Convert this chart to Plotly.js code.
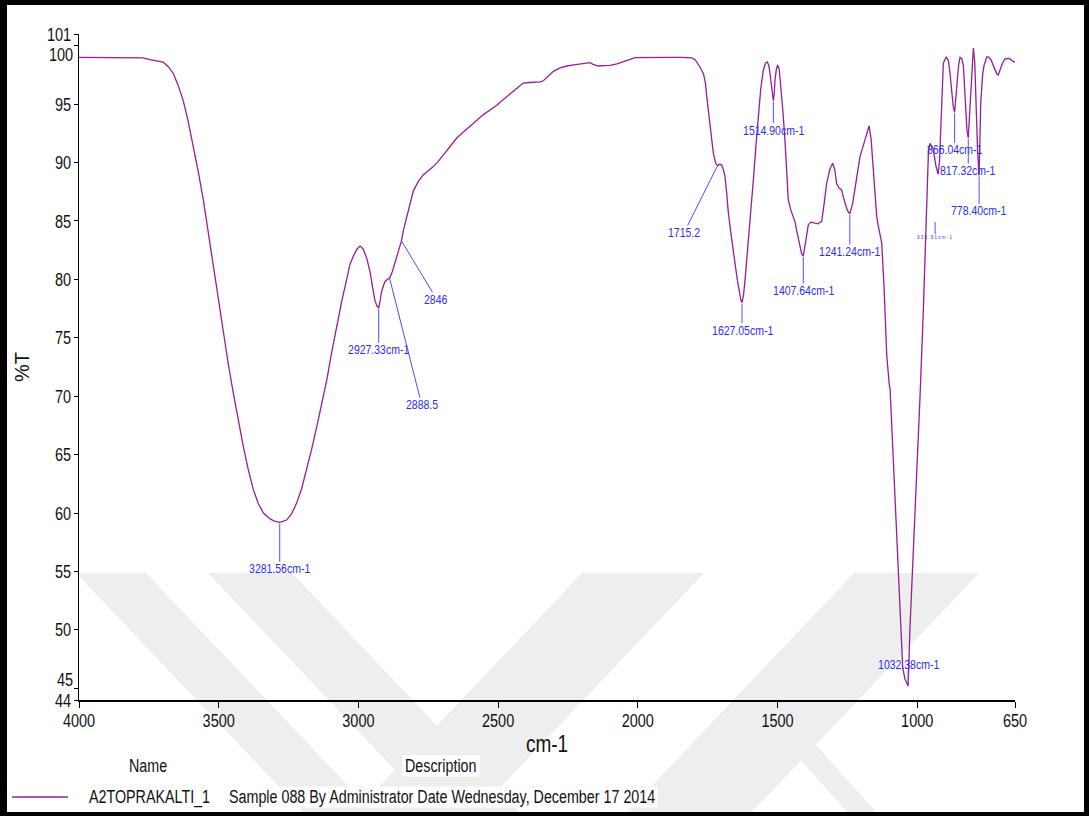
<!DOCTYPE html>
<html>
<head>
<meta charset="utf-8">
<script src="https://cdn.plot.ly/plotly-3.0.1.min.js"></script>
<style>
  html, body { margin: 0; padding: 0; background: #fff; }
  #wrap { position: relative; width: 1089px; height: 816px; overflow: hidden; }
  #chart { position: absolute; left: 0; top: 0; width: 1089px; height: 816px; }
  #frame { position: absolute; left: 0; top: 0; width: 1089px; height: 816px; box-sizing: border-box;
           border-style: solid; border-color: #000; border-width: 5px 5px 4px 7px; pointer-events: none; }
</style>
</head>
<body>
<div id="wrap"><div id="chart"></div><div id="frame"></div></div>
<script>
// FT-IR spectrum of sample A2TOPRAKALTI_1 (%T vs wavenumber)
const wavenumber = [
  4000, 3950, 3900, 3850, 3800, 3771, 3746, 3720, 3699, 3680, 3662, 3645, 3627, 3610, 3591, 3573,
  3555, 3537, 3519, 3501, 3484, 3466, 3448, 3430, 3412, 3394, 3376, 3358, 3340, 3316, 3300, 3281.56,
  3265, 3257, 3240, 3221, 3203, 3185, 3167, 3149, 3131, 3113, 3096, 3078, 3060, 3042, 3030, 3018,
  3005, 2994, 2983, 2970, 2958, 2949, 2941, 2933, 2927.33, 2922, 2917, 2910, 2905, 2896, 2888.5, 2878,
  2869, 2860, 2851, 2846, 2838, 2827, 2815, 2803, 2785, 2768, 2750, 2732, 2714, 2696, 2672, 2648,
  2625, 2601, 2577, 2553, 2529, 2505, 2481, 2457, 2433, 2410, 2386, 2362, 2350, 2338, 2320, 2302,
  2278, 2254, 2230, 2207, 2185, 2171, 2160, 2141, 2120, 2099, 2075, 2052, 2030, 2010, 1970, 1932,
  1890, 1849, 1807, 1795, 1789, 1778, 1765, 1758, 1753, 1747, 1741.6, 1735, 1729.7, 1722, 1715.2, 1708,
  1700, 1694, 1688, 1682, 1676, 1667, 1658, 1650, 1644, 1637, 1631, 1627.05, 1622, 1616, 1610, 1604,
  1595, 1586.5, 1577, 1568.6, 1560, 1550.7, 1543, 1536.4, 1531, 1526.8, 1521, 1514.9, 1512, 1508.9, 1504, 1499.4,
  1494, 1488.7, 1481, 1473.3, 1467, 1461.4, 1452, 1443.5, 1437, 1431.6, 1422, 1413.7, 1407.64, 1401.6, 1395, 1389.8,
  1381, 1371.9, 1362, 1354, 1348, 1342, 1333, 1324.2, 1313, 1302.7, 1295, 1288.4, 1279, 1270.5, 1264, 1258.6,
  1250, 1241.24, 1236, 1231, 1218, 1204.7, 1195, 1186.8, 1178, 1172, 1165, 1157, 1145, 1139.5, 1127, 1119,
  1109, 1100, 1097, 1085.4, 1073.4, 1061.5, 1052, 1044, 1038, 1032.38, 1026, 1020, 1014, 1002, 990, 978,
  966, 960, 954, 948, 942.5, 933, 925, 920, 918, 912, 906.5, 896, 888, 882.5, 876, 871,
  866.04, 862, 858.6, 852, 846.7, 840, 834.8, 828, 822, 817.32, 814, 810.9, 805, 799, 794, 789.4,
  784, 778.4, 775, 772.6, 766, 760.8, 751, 745.5, 736, 727.6, 720, 715.5, 709.8, 703.7, 695, 685.8,
  674, 667.9, 660, 653.6, 650
];
const transmittance = [
  99.0, 99.0, 98.95, 99.0, 99.0, 98.95, 98.8, 98.7, 98.6, 98.2, 97.6, 96.6, 95.3, 93.6, 91.4, 89.2,
  86.8, 84.0, 81.1, 78.2, 75.4, 72.8, 70.3, 67.9, 65.7, 63.7, 62.0, 60.8, 60.0, 59.5, 59.3, 59.2,
  59.3, 59.4, 59.9, 60.85, 62.1, 63.7, 65.5, 67.4, 69.4, 71.4, 73.7, 76.0, 78.1, 80.0, 81.3, 82.0,
  82.6, 82.85, 82.6, 81.8, 80.6, 79.3, 78.2, 77.7, 77.6, 78.2, 78.96, 79.5, 79.8, 80.0, 80.1, 80.7,
  81.4, 82.2, 82.9, 83.3, 84.3, 85.4, 86.6, 87.6, 88.4, 88.94, 89.3, 89.65, 90.1, 90.65, 91.4, 92.1,
  92.6, 93.1, 93.6, 94.1, 94.5, 94.9, 95.4, 95.9, 96.4, 96.8, 96.85, 96.85, 96.9, 97.0, 97.4, 97.8,
  98.1, 98.26, 98.35, 98.41, 98.5, 98.55, 98.4, 98.26, 98.3, 98.32, 98.45, 98.6, 98.8, 98.97, 99.0, 99.0,
  99.0, 99.0, 98.95, 98.8, 98.6, 98.2, 97.6, 96.8, 95.6, 94.3, 93.2, 92.0, 90.8, 90.0, 89.7, 89.85,
  89.8, 89.4, 88.8, 87.4, 85.7, 84.0, 82.2, 81.0, 80.0, 79.0, 78.2, 78.0, 78.6, 80.0, 81.6, 83.4,
  86.0, 88.5, 91.5, 94.2, 96.3, 97.9, 98.5, 98.6, 98.3, 97.6, 96.3, 95.3, 95.8, 97.1, 98.0, 98.35,
  98.0, 96.8, 94.5, 91.9, 89.4, 86.8, 85.9, 85.4, 84.9, 84.2, 83.1, 82.2, 82.0, 82.8, 83.9, 84.66,
  84.9, 84.86, 84.8, 84.75, 84.9, 84.95, 86.5, 88.2, 89.4, 89.94, 89.4, 88.2, 87.8, 87.66, 87.0, 86.5,
  85.9, 85.6, 86.0, 86.5, 88.5, 90.5, 91.3, 91.9, 92.7, 93.15, 92.0, 89.4, 85.4, 84.6, 83.1, 79.5,
  73.5, 71.0, 70.6, 64.5, 58.4, 51.9, 46.8, 45.8, 45.4, 45.2, 50.1, 53.2, 56.2, 62.7, 69.9, 77.4,
  86.1, 90.8, 91.65, 91.4, 91.1, 89.7, 89.0, 90.2, 91.5, 96.2, 98.5, 99.05, 98.7, 97.6, 96.0, 94.8,
  94.3, 95.4, 96.9, 98.3, 99.0, 98.9, 98.3, 95.5, 92.8, 92.1, 93.5, 95.8, 98.2, 99.8, 98.6, 95.1,
  91.0, 88.9, 92.5, 95.1, 97.5, 98.3, 99.05, 99.05, 98.8, 98.3, 97.8, 97.6, 97.5, 97.96, 98.5, 98.87,
  98.92, 98.87, 98.7, 98.6, 98.65
];

// labelled peaks
const peakWn = [3281.56, 2927.33, 2888.5, 2846, 1715.2, 1627.05, 1514.90, 1407.64, 1241.24, 1032.38, 866.04, 817.32, 778.40];
const peakText = ['3281.56cm-1', '2927.33cm-1', '2888.5', '2846', '1715.2', '1627.05cm-1', '1514.90cm-1',
                  '1407.64cm-1', '1241.24cm-1', '1032.38cm-1', '866.04cm-1', '817.32cm-1', '778.40cm-1'];
// faint marker label near 936 cm-1
const minorWn = [936];
const minorT = [84.9];
const minorText = ['9 3 5 . 9 1 c m - 1'];

// axis ticks
const xTickVals = [4000, 3500, 3000, 2500, 2000, 1500, 1000, 650];
const xTickText = ['4000', '3500', '3000', '2500', '2000', '1500', '1000', '650'];
const yTickVals = [44, 45, 50, 55, 60, 65, 70, 75, 80, 85, 90, 95, 100, 101];
const yTickText = ['44', '45', '50', '55', '60', '65', '70', '75', '80', '85', '90', '95', '100', '101'];

// legend / header texts
const sampleName = 'A2TOPRAKALTI_1';
const sampleDesc = 'Sample 088 By Administrator Date Wednesday, December 17 2014';
const headerName = 'Name';
const headerDesc = 'Description';
const xTitle = 'cm-1';
const yTitle = '%T';

// ---------- styling & layout ----------
const FONT = '"Liberation Sans", Arial, sans-serif';
const LINE_COLOR = '#961e96';
const LABEL_COLOR = '#2b2bff';
const LEADER_COLOR = '#4d4dff';
const TEXT_COLOR = '#111';
const TEXT_STRETCH = 1.3;   // tall, condensed look of the instrument fonts
const W = 1089, H = 816;
const M = { l: 79, r: 74, t: 34, b: 116 };
const plotW = W - M.l - M.r, plotH = H - M.t - M.b;
const px = x => (x - M.l) / plotW;          // pixel -> paper x
const py = y => (H - M.b - y) / plotH;      // pixel -> paper y

// label offsets [ax, ay] in px
const peakOffsets = [[0, 46], [0, 42], [32, 126], [35, 58], [-33, 66], [0, 27], [0, 29],
                     [0, 34], [0, 37], [0, -22], [0, 37], [0, 32], [0, 35]];

const lookupT = wn => transmittance[wavenumber.indexOf(wn)];

const annotations = [];
peakWn.forEach((wn, i) => {
  annotations.push({
    x: wn, y: lookupT(wn), xref: 'x', yref: 'y', text: peakText[i],
    showarrow: true, arrowhead: 0, arrowwidth: 1, arrowcolor: LEADER_COLOR,
    axref: 'pixel', ayref: 'pixel', ax: peakOffsets[i][0], ay: peakOffsets[i][1],
    standoff: i === 9 ? 4 : 1, borderpad: 0,
    font: { family: FONT, size: 10.5, color: LABEL_COLOR }
  });
});
minorWn.forEach((wn, i) => {
  annotations.push({
    x: wn, y: minorT[i], xref: 'x', yref: 'y', text: minorText[i],
    showarrow: true, arrowhead: 0, arrowwidth: 1, arrowcolor: LEADER_COLOR,
    axref: 'pixel', ayref: 'pixel', ax: 0, ay: 15, standoff: 0, borderpad: 0,
    font: { family: FONT, size: 4.5, color: LABEL_COLOR }
  });
});

// y tick labels that sit off their ticks to avoid crowding
const shiftedY = { 45: 8, 100: -9 };
const yTickTextDrawn = yTickText.map((t, i) => (yTickVals[i] in shiftedY ? '' : t));
Object.keys(shiftedY).forEach(v => {
  const idx = yTickVals.indexOf(Number(v));
  annotations.push({
    x: 0, xref: 'paper', y: Number(v), yref: 'y', text: yTickText[idx], showarrow: false,
    xanchor: 'right', yanchor: 'middle', xshift: -5, yshift: shiftedY[v], borderpad: 0,
    font: { family: FONT, size: 14.5, color: TEXT_COLOR }
  });
});

// header + legend row
const rowFont = { family: FONT, size: 14.3, color: TEXT_COLOR };
annotations.push(
  { x: px(148), y: py(766), xref: 'paper', yref: 'paper', text: headerName, showarrow: false,
    xanchor: 'center', yanchor: 'middle', font: rowFont },
  { x: px(441), y: py(766), xref: 'paper', yref: 'paper', text: headerDesc, showarrow: false,
    xanchor: 'center', yanchor: 'middle', bgcolor: '#fff', borderpad: 2, font: rowFont },
  { x: px(87), y: py(797), xref: 'paper', yref: 'paper', text: sampleName, showarrow: false,
    xanchor: 'left', yanchor: 'middle', font: rowFont },
  { x: px(226), y: py(797), xref: 'paper', yref: 'paper', text: sampleDesc, showarrow: false,
    xanchor: 'left', yanchor: 'middle', bgcolor: '#fff', borderpad: 2, font: rowFont }
);

// pale diagonal background stripes
const slope = 0.95, topY = 573, botY = 822;
function stripe(x0, x1, dir, y0 = topY) {
  const d = dir * slope * (botY - y0);
  return `M ${px(x0)} ${py(y0)} L ${px(x1)} ${py(y0)} L ${px(x1 + d)} ${py(botY)} L ${px(x0 + d)} ${py(botY)} Z`;
}
const stripePaths = [
  stripe(76, 146, 1),
  stripe(208, 292, 1),
  stripe(582, 704, -1),
  stripe(854, 979, -1),
  `M ${px(790)} ${py(748)} L ${px(806)} ${py(734)} L ${px(885)} ${py(822)} L ${px(856)} ${py(822)} Z`
];
const shapes = stripePaths.map(p => ({
  type: 'path', path: p, xref: 'paper', yref: 'paper', layer: 'below',
  fillcolor: '#eeeeee', line: { width: 0 }
}));
// legend swatch
shapes.push({
  type: 'line', xref: 'paper', yref: 'paper', x0: px(12), x1: px(68), y0: py(797), y1: py(797),
  line: { color: LINE_COLOR, width: 1.5 }
});

const trace = {
  x: wavenumber, y: transmittance, type: 'scatter', mode: 'lines',
  line: { color: LINE_COLOR, width: 1.3 }, name: sampleName, hoverinfo: 'x+y'
};

const layout = {
  width: W, height: H, margin: M,
  paper_bgcolor: '#fff', plot_bgcolor: 'rgba(0,0,0,0)',
  showlegend: false,
  font: { family: FONT, color: TEXT_COLOR },
  xaxis: {
    range: [4000, 650], tickvals: xTickVals, ticktext: xTickText,
    showgrid: false, zeroline: false, showline: true, linecolor: '#000', linewidth: 2,
    ticks: 'outside', ticklen: 6, tickcolor: '#000', tickwidth: 1,
    tickfont: { family: FONT, size: 14.5, color: TEXT_COLOR },
    title: { text: xTitle, font: { family: FONT, size: 19, color: TEXT_COLOR }, standoff: 9 }
  },
  yaxis: {
    range: [44, 101], tickvals: yTickVals, ticktext: yTickTextDrawn,
    showgrid: false, zeroline: false, showline: true, linecolor: '#000', linewidth: 1,
    ticks: 'outside', ticklen: 4, tickcolor: '#000', tickwidth: 1,
    tickfont: { family: FONT, size: 14.5, color: TEXT_COLOR },
    title: { text: yTitle, font: { family: FONT, size: 20, color: TEXT_COLOR }, standoff: 11 }
  },
  annotations: annotations,
  shapes: shapes
};

// stretch a text element vertically about its own centre line
function stretchY(el, s) {
  const bb = el.getBBox();
  if (!bb.height) return;
  const cy = bb.y + bb.height / 2;
  const t = el.getAttribute('transform') || '';
  el.setAttribute('transform', `${t} translate(0,${cy}) scale(1,${s}) translate(0,${-cy})`);
}

Plotly.newPlot('chart', [trace], layout, { staticPlot: true, displayModeBar: false }).then(gd => {
  gd.querySelectorAll('.xtick text, .ytick text, .annotation-text, .g-xtitle text').forEach(el => stretchY(el, TEXT_STRETCH));
});
</script>
</body>
</html>
